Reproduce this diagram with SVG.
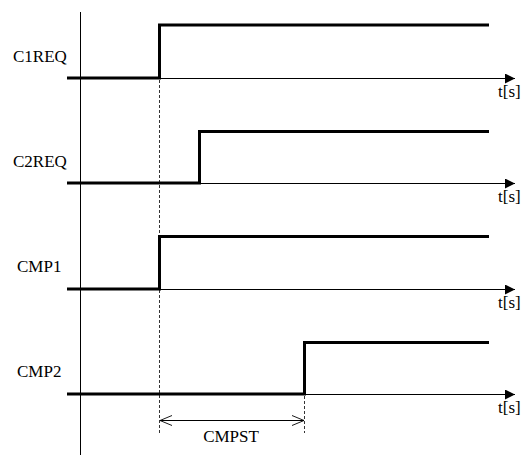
<svg xmlns="http://www.w3.org/2000/svg" width="530" height="455" viewBox="0 0 530 455">
<style>
.sig{fill:none;stroke:#000;stroke-width:3;stroke-linejoin:miter}
.ax{fill:none;stroke:#000;stroke-width:1}
.dash{fill:none;stroke:#000;stroke-width:0.8;stroke-dasharray:3,2}
text{font-family:'Liberation Serif','Times New Roman',Times,serif;font-size:17px;fill:#000}
</style>
<defs>
<marker id="ah" markerWidth="10" markerHeight="10" refX="10" refY="5" orient="auto" markerUnits="userSpaceOnUse">
<path d="M0,0 L10,5 L0,10 Z" fill="#000"/>
</marker>
<marker id="open" markerWidth="13" markerHeight="12" refX="12" refY="6" orient="auto-start-reverse" markerUnits="userSpaceOnUse">
<path d="M0,1 L12,6 L0,11" fill="none" stroke="#000" stroke-width="0.9"/>
</marker>
</defs>
<g id="axis">
<line class="ax" x1="80.5" y1="12" x2="80.5" y2="455"/>
</g>
<g id="C1REQ">
<text x="13" y="62" font-family="Liberation Serif, serif">C1REQ</text>
<line class="ax" x1="159" y1="78.5" x2="515" y2="78.5" marker-end="url(#ah)"/>
<polyline class="sig" points="67,78 159.5,78 159.5,25 489,25"/>
<text x="498" y="97" font-family="Liberation Serif, serif">t[s]</text>
</g>
<g id="C2REQ">
<text x="13" y="167" font-family="Liberation Serif, serif">C2REQ</text>
<line class="ax" x1="199" y1="183.5" x2="515" y2="183.5" marker-end="url(#ah)"/>
<polyline class="sig" points="67,183 199.5,183 199.5,131.5 489,131.5"/>
<text x="498" y="202" font-family="Liberation Serif, serif">t[s]</text>
</g>
<g id="CMP1">
<text x="17" y="272" font-family="Liberation Serif, serif">CMP1</text>
<line class="ax" x1="159" y1="289.5" x2="515" y2="289.5" marker-end="url(#ah)"/>
<polyline class="sig" points="67,289 159.5,289 159.5,236.5 489,236.5"/>
<text x="498" y="308" font-family="Liberation Serif, serif">t[s]</text>
</g>
<g id="CMP2">
<text x="17" y="377" font-family="Liberation Serif, serif">CMP2</text>
<line class="ax" x1="304" y1="394.5" x2="515" y2="394.5" marker-end="url(#ah)"/>
<polyline class="sig" points="67,394 304.5,394 304.5,342.5 489,342.5"/>
<text x="498" y="413" font-family="Liberation Serif, serif">t[s]</text>
</g>
<g id="connectors">
<line class="dash" x1="159.5" y1="80" x2="159.5" y2="433"/>
<line class="dash" x1="304.5" y1="396" x2="304.5" y2="433"/>
<line class="ax" x1="160" y1="420.5" x2="304" y2="420.5" marker-start="url(#open)" marker-end="url(#open)"/>
</g>
<g id="CMPST">
<text x="231" y="442" text-anchor="middle" font-family="Liberation Serif, serif">CMPST</text>
</g>
</svg>
